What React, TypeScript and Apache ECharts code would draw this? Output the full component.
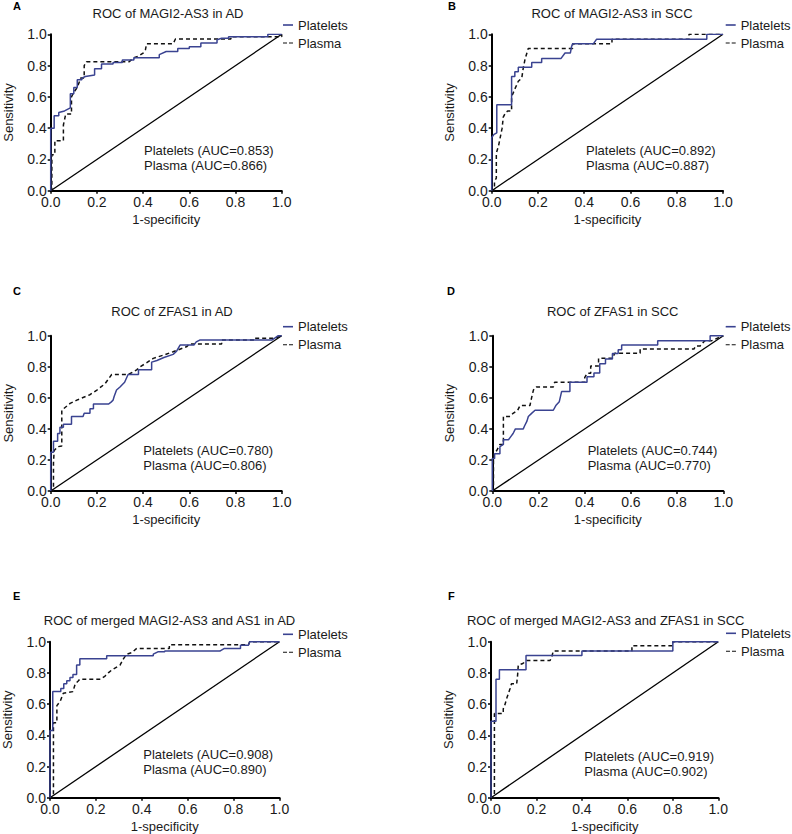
import React, { useEffect, useRef } from "react";
import * as echarts from "echarts";

// ---------- data ----------
const panelLetters = ["A", "B", "C", "D", "E", "F"];
const panelTitles = [
  "ROC of MAGI2-AS3 in AD",
  "ROC of MAGI2-AS3 in SCC",
  "ROC of ZFAS1 in AD",
  "ROC of ZFAS1 in SCC",
  "ROC of merged MAGI2-AS3 and AS1 in AD",
  "ROC of merged MAGI2-AS3 and ZFAS1 in SCC",
];
const seriesNames = ["Platelets", "Plasma"];
const plateletsAUC = ["0.853", "0.892", "0.780", "0.744", "0.908", "0.919"];
const plasmaAUC = ["0.866", "0.887", "0.806", "0.770", "0.890", "0.902"];
const xAxisName = "1-specificity";
const yAxisName = "Sensitivity";
const axisMin = 0;
const axisMax = 1;
const axisStep = 0.2;
const referenceLine = [[0, 0], [1, 1]];

// [1-specificity, sensitivity]
const rocAPlatelets = [
  [0, 0], [0, 0.4], [0.015, 0.4], [0.015, 0.48], [0.035, 0.48], [0.035, 0.5], [0.06, 0.51], [0.085, 0.53],
  [0.085, 0.62], [0.1, 0.62], [0.1, 0.66], [0.115, 0.66], [0.115, 0.71], [0.135, 0.71], [0.135, 0.72],
  [0.15, 0.73], [0.19, 0.74], [0.19, 0.78], [0.22, 0.78], [0.22, 0.81], [0.27, 0.81], [0.27, 0.82],
  [0.31, 0.82], [0.31, 0.835], [0.36, 0.835], [0.36, 0.85], [0.47, 0.85], [0.47, 0.87], [0.5, 0.89],
  [0.55, 0.89], [0.55, 0.91], [0.6, 0.91], [0.6, 0.92], [0.65, 0.92], [0.65, 0.945], [0.72, 0.945],
  [0.72, 0.965], [0.74, 0.975], [0.77, 0.975], [0.77, 0.985], [0.94, 0.985], [0.94, 1], [1, 1],
];
const rocAPlasma = [
  [0, 0], [0.005, 0], [0.005, 0.23], [0.018, 0.23], [0.018, 0.32], [0.055, 0.32], [0.055, 0.42],
  [0.065, 0.49], [0.09, 0.49], [0.09, 0.6], [0.1, 0.63], [0.115, 0.66], [0.13, 0.72], [0.145, 0.72],
  [0.145, 0.8], [0.155, 0.825], [0.34, 0.825], [0.36, 0.85], [0.38, 0.86], [0.4, 0.88], [0.41, 0.9],
  [0.415, 0.94], [0.53, 0.94], [0.54, 0.97], [0.78, 0.97], [0.78, 0.985], [1, 0.985], [1, 1],
];

const rocBPlatelets = [
  [0, 0], [0, 0.34], [0.01, 0.36], [0.022, 0.37], [0.022, 0.55], [0.086, 0.55], [0.086, 0.73], [0.1, 0.73],
  [0.1, 0.76], [0.115, 0.76], [0.115, 0.79], [0.173, 0.79], [0.173, 0.82], [0.216, 0.82], [0.216, 0.846],
  [0.3, 0.846], [0.317, 0.88], [0.34, 0.88], [0.345, 0.92], [0.35, 0.94], [0.44, 0.94], [0.453, 0.968],
  [0.93, 0.968], [0.93, 1], [1, 1],
];
const rocBPlasma = [
  [0, 0], [0.012, 0], [0.012, 0.06], [0.02, 0.08], [0.02, 0.24], [0.03, 0.29], [0.045, 0.4], [0.05, 0.47],
  [0.06, 0.5], [0.07, 0.51], [0.086, 0.51], [0.086, 0.6], [0.1, 0.65], [0.115, 0.7], [0.13, 0.72],
  [0.136, 0.78], [0.144, 0.84], [0.158, 0.91], [0.35, 0.91], [0.35, 0.94], [0.52, 0.94], [0.52, 0.968],
  [0.853, 0.968], [0.853, 1], [1, 1],
];

const rocCPlatelets = [
  [0, 0], [0, 0.25], [0.012, 0.25], [0.012, 0.32], [0.03, 0.32], [0.03, 0.37], [0.04, 0.37], [0.04, 0.41],
  [0.055, 0.41], [0.055, 0.43], [0.09, 0.43], [0.09, 0.48], [0.14, 0.48], [0.145, 0.5], [0.17, 0.5],
  [0.17, 0.53], [0.185, 0.53], [0.185, 0.56], [0.25, 0.56], [0.26, 0.57], [0.27, 0.585], [0.275, 0.61],
  [0.285, 0.65], [0.3, 0.67], [0.32, 0.7], [0.335, 0.75], [0.38, 0.75], [0.38, 0.78], [0.437, 0.78],
  [0.437, 0.83], [0.46, 0.84], [0.49, 0.86], [0.53, 0.88], [0.545, 0.9], [0.56, 0.94], [0.62, 0.94],
  [0.63, 0.96], [0.645, 0.972], [0.957, 0.972], [0.97, 0.985], [0.985, 1], [1, 1],
];
const rocCPlasma = [
  [0, 0], [0.012, 0], [0.012, 0.18], [0.015, 0.26], [0.03, 0.285], [0.048, 0.29], [0.048, 0.52],
  [0.084, 0.564], [0.113, 0.585], [0.17, 0.62], [0.2, 0.65], [0.235, 0.69], [0.264, 0.75], [0.336, 0.75],
  [0.372, 0.78], [0.387, 0.8], [0.416, 0.826], [0.444, 0.854], [0.49, 0.876], [0.53, 0.897], [0.59, 0.93],
  [0.6, 0.946], [0.74, 0.946], [0.74, 0.972], [0.885, 0.972], [0.885, 0.983], [0.97, 0.983], [1, 1],
];

const rocDPlatelets = [
  [0, 0], [0, 0.21], [0.01, 0.21], [0.01, 0.24], [0.033, 0.24], [0.033, 0.285], [0.048, 0.3], [0.048, 0.33],
  [0.07, 0.33], [0.08, 0.35], [0.09, 0.37], [0.1, 0.4], [0.134, 0.4], [0.14, 0.42], [0.15, 0.45],
  [0.156, 0.48], [0.17, 0.5], [0.185, 0.52], [0.264, 0.52], [0.275, 0.55], [0.29, 0.575], [0.3, 0.64],
  [0.336, 0.64], [0.336, 0.7], [0.41, 0.7], [0.41, 0.735], [0.44, 0.735], [0.44, 0.76], [0.465, 0.76],
  [0.465, 0.82], [0.49, 0.82], [0.49, 0.85], [0.52, 0.85], [0.52, 0.885], [0.545, 0.885], [0.545, 0.91],
  [0.56, 0.91], [0.56, 0.94], [0.716, 0.94], [0.716, 0.968], [0.943, 0.968], [0.943, 1], [1, 1],
];
const rocDPlasma = [
  [0, 0], [0.005, 0], [0.005, 0.24], [0.019, 0.26], [0.033, 0.3], [0.048, 0.3], [0.048, 0.48],
  [0.077, 0.48], [0.09, 0.5], [0.11, 0.52], [0.12, 0.55], [0.163, 0.55], [0.17, 0.6], [0.178, 0.65],
  [0.19, 0.67], [0.264, 0.67], [0.27, 0.7], [0.4, 0.7], [0.4, 0.73], [0.41, 0.758], [0.426, 0.758],
  [0.426, 0.805], [0.46, 0.805], [0.46, 0.854], [0.52, 0.854], [0.53, 0.887], [0.64, 0.887], [0.64, 0.914],
  [0.873, 0.914], [0.88, 0.934], [0.9, 0.934], [0.92, 0.968], [0.95, 0.968], [1, 1],
];

const rocEPlatelets = [
  [0, 0], [0, 0.43], [0.012, 0.43], [0.012, 0.68], [0.047, 0.68], [0.047, 0.7], [0.06, 0.7], [0.06, 0.73],
  [0.073, 0.73], [0.073, 0.75], [0.087, 0.75], [0.087, 0.77], [0.1, 0.77], [0.1, 0.79], [0.116, 0.79],
  [0.116, 0.85], [0.13, 0.85], [0.13, 0.89], [0.247, 0.89], [0.247, 0.91], [0.45, 0.91], [0.45, 0.92],
  [0.47, 0.935], [0.5, 0.935], [0.5, 0.94], [0.74, 0.94], [0.76, 0.957], [0.83, 0.957], [0.83, 0.978],
  [0.865, 0.978], [0.87, 1], [1, 1],
];
const rocEPlasma = [
  [0, 0], [0.015, 0], [0.015, 0.48], [0.03, 0.48], [0.03, 0.59], [0.045, 0.62], [0.058, 0.67], [0.1, 0.68],
  [0.11, 0.73], [0.124, 0.75], [0.13, 0.76], [0.22, 0.76], [0.24, 0.78], [0.254, 0.8], [0.27, 0.82],
  [0.305, 0.85], [0.32, 0.89], [0.334, 0.92], [0.356, 0.93], [0.378, 0.957], [0.52, 0.957], [0.52, 0.98],
  [0.865, 0.98], [0.87, 1], [1, 1],
];

const rocFPlatelets = [
  [0, 0], [0, 0.49], [0.022, 0.49], [0.022, 0.76], [0.037, 0.76], [0.037, 0.82], [0.154, 0.82],
  [0.154, 0.912], [0.4, 0.912], [0.4, 0.94], [0.8, 0.94], [0.8, 1], [1, 1],
];
const rocFPlasma = [
  [0, 0], [0.015, 0], [0.015, 0.54], [0.054, 0.54], [0.054, 0.57], [0.06, 0.59], [0.07, 0.64],
  [0.084, 0.7], [0.09, 0.73], [0.113, 0.73], [0.117, 0.786], [0.12, 0.85], [0.14, 0.86], [0.157, 0.88],
  [0.26, 0.88], [0.267, 0.9], [0.274, 0.94], [0.62, 0.94], [0.62, 0.974], [0.8, 0.974], [0.8, 1], [1, 1],
];

const plateletsCurves = [rocAPlatelets, rocBPlatelets, rocCPlatelets, rocDPlatelets, rocEPlatelets, rocFPlatelets];
const plasmaCurves = [rocAPlasma, rocBPlasma, rocCPlasma, rocDPlasma, rocEPlasma, rocFPlasma];

// ---------- layout / style ----------
const FONT = "'Liberation Sans', Arial, Helvetica, sans-serif";
const BLUE = "#3a4391";
const INK = "#1a1a1a";
const DASH_ICON = "path://M0,0h4v1h-4z M6,0h4v1h-4z";

const layout = [
  { left: 50.7, top: 34.3, width: 231, height: 156.4, titleX: 168, titleY: 13, letterX: 13, letterY: 6, aucX: 144, aucY: 150, legendX: 283, legendY: 25 },
  { left: 491.7, top: 34.3, width: 231.3, height: 156.4, titleX: 612, titleY: 13, letterX: 448, letterY: 6, aucX: 586, aucY: 150, legendX: 725.7, legendY: 25 },
  { left: 50.7, top: 335.7, width: 231, height: 155.3, titleX: 172, titleY: 311.7, letterX: 13, letterY: 291, aucX: 143.3, aucY: 450, legendX: 283, legendY: 326.7 },
  { left: 492.3, top: 335.7, width: 231, height: 155.3, titleX: 612.7, titleY: 311.7, letterX: 447, letterY: 291, aucX: 587.7, aucY: 450, legendX: 725.7, legendY: 326.7 },
  { left: 50, top: 641.7, width: 229.5, height: 156, titleX: 169.5, titleY: 620, letterX: 13, letterY: 596, aucX: 143.3, aucY: 754.5, legendX: 283, legendY: 634.3 },
  { left: 491, top: 641.7, width: 227.3, height: 156, titleX: 605.7, titleY: 620, letterX: 448, letterY: 596, aucX: 584.3, aucY: 756, legendX: 726, legendY: 633.3 },
];

function buildOption() {
  const grid = layout.map((l) => ({ left: l.left, top: l.top, width: l.width, height: l.height }));
  const axisCommon = (i: number) => ({
    type: "value",
    gridIndex: i,
    min: axisMin,
    max: axisMax,
    interval: axisStep,
    axisLine: { show: true, onZero: false, lineStyle: { color: "#000", width: 2 } },
    axisTick: { show: true, length: 3, lineStyle: { color: "#000", width: 1.5 } },
    axisLabel: {
      fontSize: 14,
      color: INK,
      margin: 4,
      fontFamily: FONT,
      formatter: (v: number) => v.toFixed(1),
    },
    splitLine: { show: false },
    nameLocation: "middle",
    nameTextStyle: { fontSize: 13, color: INK, fontFamily: FONT },
  });
  const xAxis = layout.map((_, i) => ({ ...axisCommon(i), name: xAxisName, nameGap: 22 }));
  const yAxis = layout.map((_, i) => ({ ...axisCommon(i), name: yAxisName, nameGap: 36 }));

  const series: any[] = [];
  layout.forEach((_, i) => {
    series.push({
      type: "line",
      name: "ref" + i,
      xAxisIndex: i,
      yAxisIndex: i,
      data: referenceLine,
      symbol: "none",
      silent: true,
      lineStyle: { color: "#000", width: 1.3 },
      z: 2,
    });
    series.push({
      type: "line",
      name: seriesNames[1],
      xAxisIndex: i,
      yAxisIndex: i,
      data: plasmaCurves[i],
      symbol: "none",
      lineStyle: { color: "#111", width: 1.5, type: [4, 3] },
      itemStyle: { color: "#111" },
      z: 3,
    });
    series.push({
      type: "line",
      name: seriesNames[0],
      xAxisIndex: i,
      yAxisIndex: i,
      data: plateletsCurves[i],
      symbol: "none",
      lineStyle: { color: BLUE, width: 1.5 },
      itemStyle: { color: BLUE },
      z: 4,
    });
  });

  const title = layout.map((l, i) => ({
    text: panelTitles[i],
    left: l.titleX,
    top: l.titleY - 7.5,
    textAlign: "center",
    padding: 0,
    textStyle: { fontSize: 13, fontWeight: "normal", color: INK, fontFamily: FONT, lineHeight: 15 },
  }));

  const legend = layout.map((l) => ({
    orient: "vertical",
    left: l.legendX,
    top: l.legendY - 7,
    padding: 0,
    itemWidth: 10,
    itemHeight: 1.6,
    itemGap: 4,
    selectedMode: false,
    data: [
      { name: seriesNames[0], icon: "rect", itemStyle: { color: BLUE } },
      { name: seriesNames[1], icon: DASH_ICON, itemStyle: { color: "#111" } },
    ],
    textStyle: { fontSize: 13, color: INK, fontFamily: FONT, lineHeight: 14 },
  }));

  const graphic: any[] = [];
  layout.forEach((l, i) => {
    graphic.push({
      type: "text",
      x: l.letterX,
      y: l.letterY,
      style: { text: panelLetters[i], font: "bold 11px " + FONT, fill: "#000", verticalAlign: "middle", align: "left" },
    });
    graphic.push({
      type: "text",
      x: l.aucX,
      y: l.aucY,
      style: { text: `${seriesNames[0]} (AUC=${plateletsAUC[i]})`, font: "13px " + FONT, fill: INK, verticalAlign: "middle", align: "left" },
    });
    graphic.push({
      type: "text",
      x: l.aucX,
      y: l.aucY + 15,
      style: { text: `${seriesNames[1]} (AUC=${plasmaAUC[i]})`, font: "13px " + FONT, fill: INK, verticalAlign: "middle", align: "left" },
    });
  });

  return {
    animation: false,
    backgroundColor: "#ffffff",
    textStyle: { fontFamily: FONT },
    title,
    legend,
    grid,
    xAxis,
    yAxis,
    series,
    graphic,
  };
}

export default function App() {
  const ref = useRef<HTMLDivElement>(null);
  useEffect(() => {
    if (!ref.current) return;
    const chart = echarts.init(ref.current, undefined, { renderer: "svg" });
    chart.setOption(buildOption() as any);
    return () => chart.dispose();
  }, []);
  return (
    <div
      ref={ref}
      style={{ position: "absolute", left: 0, top: 0, width: 792, height: 834, background: "#fff" }}
    />
  );
}
